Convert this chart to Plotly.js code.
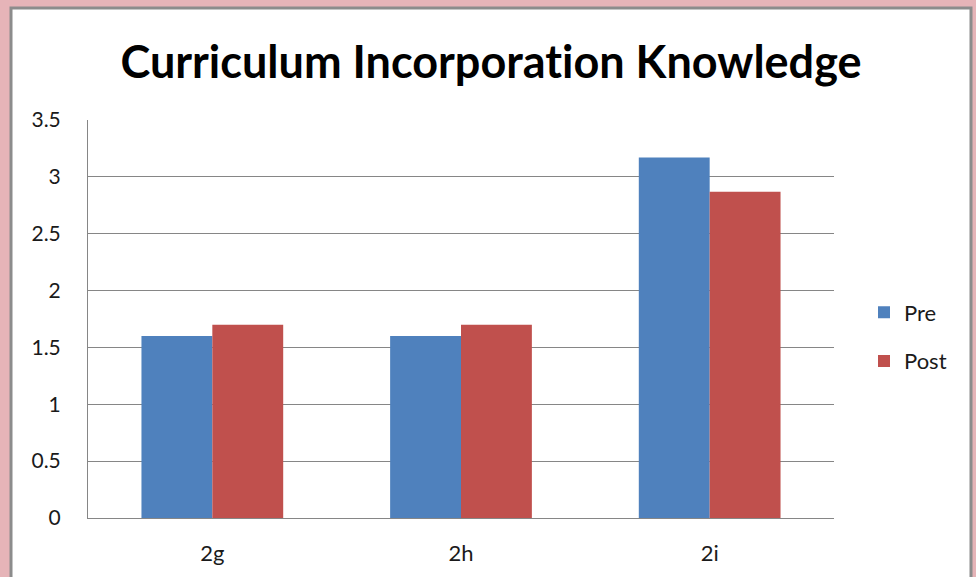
<!DOCTYPE html>
<html>
<head>
<meta charset="utf-8">
<script src="https://cdn.plot.ly/plotly-3.0.1.min.js"></script>
<style>html,body{margin:0;padding:0;background:#e6b4b8;}#chart{width:976px;height:577px;} text{font-variant-ligatures:none;font-feature-settings:"liga" 0;}</style>
</head>
<body>
<div id="chart"></div>
<script>
const categories = ["2g", "2h", "2i"];
const preValues = [1.6, 1.6, 3.17];
const postValues = [1.7, 1.7, 2.87];
const yTickValues = [0, 0.5, 1, 1.5, 2, 2.5, 3, 3.5];
const yTickLabels = ["0", "0.5", "1", "1.5", "2", "2.5", "3", "3.5"];

const L = 88, R = 142, T = 120, B = 59;
const W = 976, H = 577;
const pw = W - L - R, ph = H - T - B;
function px(x){ return (x - L) / pw; }
function py(y){ return (H - B - y) / ph; }

const traces = [
  {type:'bar', name:'Pre', x:categories, y:preValues, marker:{color:'#4f81bd'}, legendgroup:'a'},
  {type:'bar', name:'Post', x:categories, y:postValues, marker:{color:'#c0504d'}, legendgroup:'b'}
];

const layout = {
  width: W, height: H,
  margin: {l:L, r:R, t:T, b:B, pad:0},
  paper_bgcolor: '#e6b4b8',
  plot_bgcolor: 'rgba(0,0,0,0)',
  font: {family:'Lato, sans-serif', size:21, color:'#1a1a1a'},
  title: {text:'<b>Curriculum Incorporation Knowledge</b>', font:{family:'Lato, sans-serif', size:45, color:'#000'}, x:px(491), xanchor:'center', y:1 - 62/H, yanchor:'middle', xref:'paper'},
  barmode: 'group',
  bargap: 0.43,
  bargroupgap: 0,
  showlegend: true,
  legend: {x:px(864), xanchor:'left', y:py(337), yanchor:'middle', bgcolor:'rgba(0,0,0,0)', font:{size:22, color:'#1a1a1a'}, traceorder:'grouped', tracegroupgap:17, itemwidth:30},
  xaxis: {type:'category', showgrid:false, showline:true, linecolor:'#868686', linewidth:1, ticks:'outside', ticklen:16, tickcolor:'rgba(0,0,0,0)', tickfont:{size:22}, fixedrange:true},
  yaxis: {range:[0,3.5], tickmode:'array', tickvals:yTickValues, ticktext:yTickLabels, showgrid:true, gridcolor:'#868686', gridwidth:1, showline:true, linecolor:'#868686', linewidth:1, ticks:'outside', ticklen:22, tickcolor:'rgba(0,0,0,0)', tickfont:{size:21}, zeroline:false, fixedrange:true},
  shapes: [
    {type:'rect', xref:'paper', yref:'paper', x0:px(11), x1:px(971), y0:py(600), y1:py(8), fillcolor:'#ffffff', line:{color:'#8c8c8c', width:3}, layer:'below'}
  ]
};

Plotly.newPlot('chart', traces, layout, {displayModeBar:false, staticPlot:true});
</script>
</body>
</html>
